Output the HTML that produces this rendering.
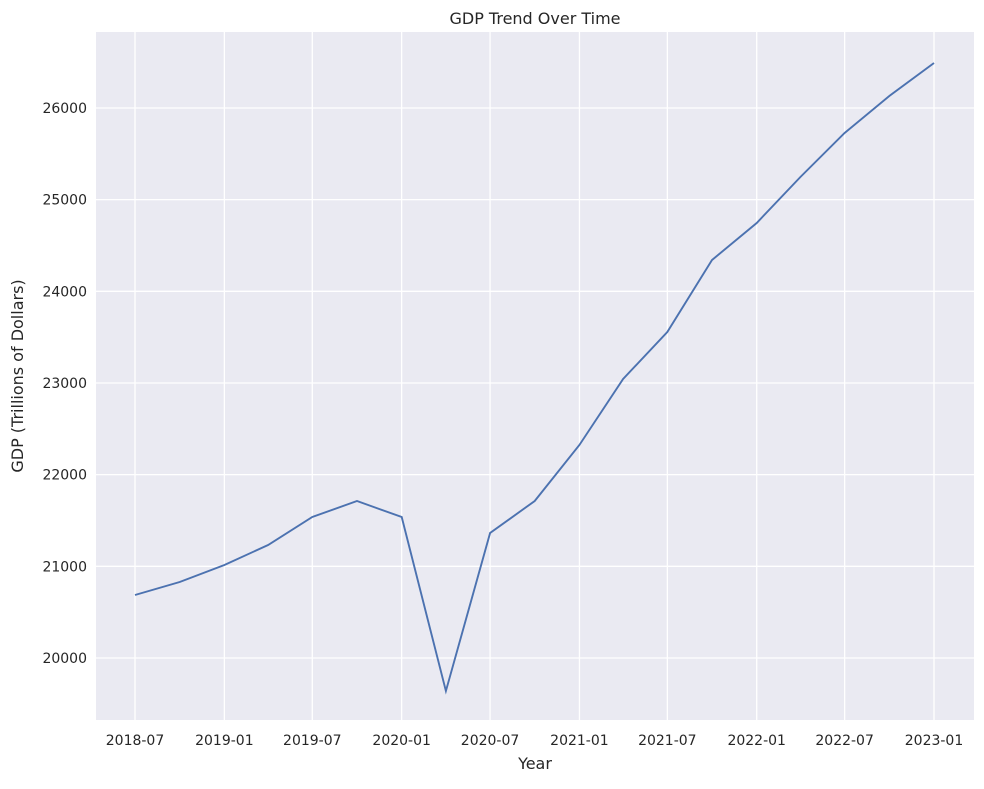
<!DOCTYPE html>
<html><head><meta charset="utf-8"><style>
body{margin:0;background:#fff;font-family:"Liberation Sans","DejaVu Sans",sans-serif;}
svg text{font-family:"DejaVu Sans","Liberation Sans",sans-serif;fill:#262626;}
</style></head><body>
<svg id="chart" width="984" height="784" xmlns="http://www.w3.org/2000/svg">
<rect x="96" y="32" width="878" height="688" fill="#eaeaf2"/>
<g id="grid"></g><g id="ticks"></g>
<path id="line" fill="none" stroke="#4c72b0" stroke-width="1.9"/>
<text x="535" y="24" text-anchor="middle" font-size="16">GDP Trend Over Time</text>
<text x="535" y="769" text-anchor="middle" font-size="16">Year</text>
<text transform="translate(23,376) rotate(-90)" text-anchor="middle" font-size="16">GDP (Trillions of Dollars)</text>
</svg>
<script>
const dates=["2018-07-01","2018-10-01","2019-01-01","2019-04-01","2019-07-01","2019-10-01","2020-01-01","2020-04-01","2020-07-01","2020-10-01","2021-01-01","2021-04-01","2021-07-01","2021-10-01","2022-01-01","2022-04-01","2022-07-01","2022-10-01","2023-01-01"];
const gdp=[20687,20829,21015,21233,21538,21713,21538,19640,21364,21713,22324,23044,23556,24342,24745,25247,25727,26131,26491];
const xTicks=["2018-07","2019-01","2019-07","2020-01","2020-07","2021-01","2021-07","2022-01","2022-07","2023-01"];
const yTicks=[20000,21000,22000,23000,24000,25000,26000];
const NS="http://www.w3.org/2000/svg";
const d0=Date.parse("2018-07-01"),d1=Date.parse("2023-01-01");
function xs(s){return 135+(Date.parse(s)-d0)/(d1-d0)*(934-135);}
function ys(v){return 658-(v-20000)/1000*91.67;}
const grid=document.getElementById('grid'),ticks=document.getElementById('ticks');
function mk(tag,attrs,parent){const e=document.createElementNS(NS,tag);for(const k in attrs)e.setAttribute(k,attrs[k]);parent.appendChild(e);return e;}
xTicks.forEach(t=>{const x=xs(t+"-01");
 const l=mk('line',{x1:x,x2:x,y1:32,y2:720,stroke:'#fff','stroke-width':1.3},grid);
 
 
 const tx=mk('text',{x:x,y:745,'text-anchor':'middle','font-size':14},ticks);tx.textContent=t;
 
 
});
yTicks.forEach(v=>{const y=ys(v);
 const l=mk('line',{x1:96,x2:974,y1:y,y2:y,stroke:'#fff','stroke-width':1.3},grid);
 
 
 const tx=mk('text',{x:87,y:y+5,'text-anchor':'end','font-size':14},ticks);tx.textContent=v;
 
 
});
document.getElementById('line').setAttribute('d',dates.map((d,i)=>(i?'L':'M')+xs(d).toFixed(1)+','+ys(gdp[i]).toFixed(1)).join(''));
</script>
</body></html>
